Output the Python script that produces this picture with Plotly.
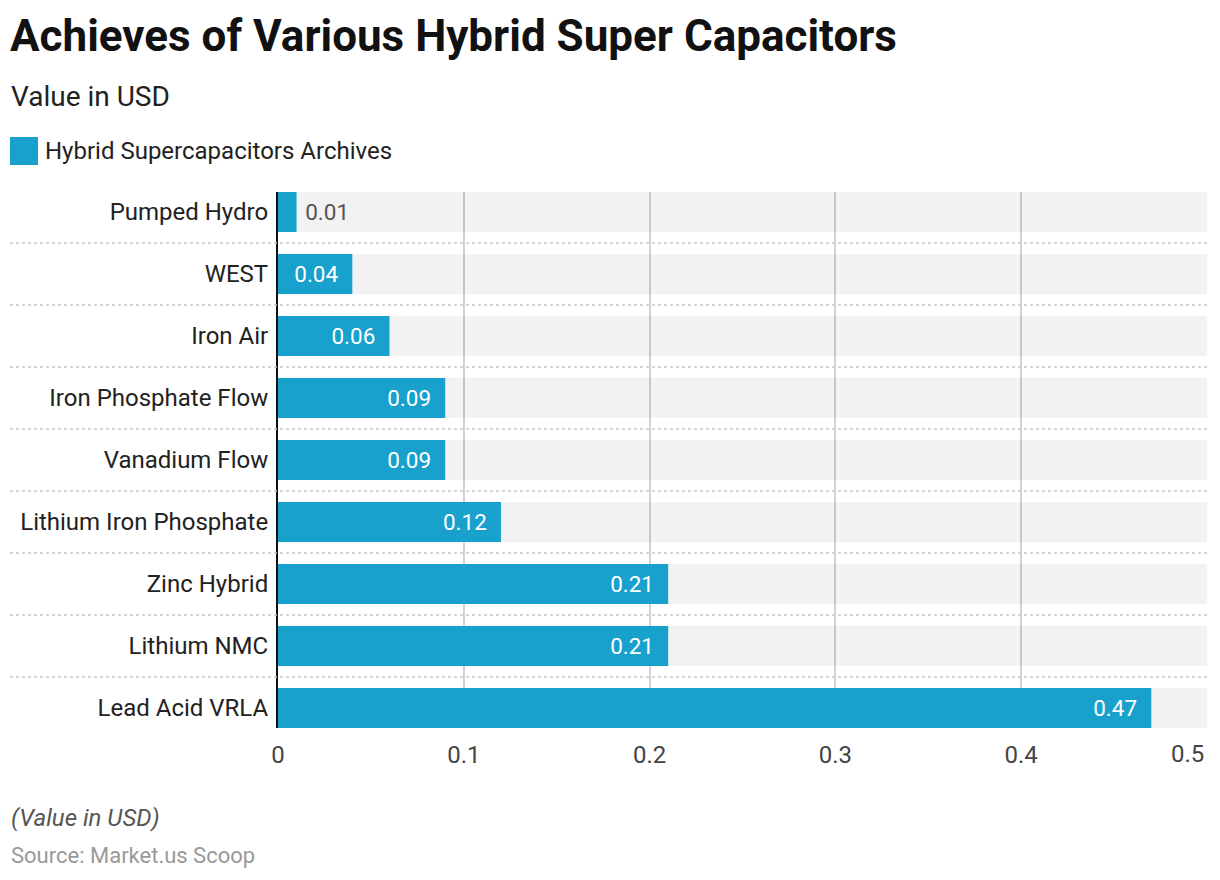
import plotly.graph_objects as go

categories = ["Pumped Hydro", "WEST", "Iron Air", "Iron Phosphate Flow", "Vanadium Flow",
              "Lithium Iron Phosphate", "Zinc Hybrid", "Lithium NMC", "Lead Acid VRLA"]
values = [0.01, 0.04, 0.06, 0.09, 0.09, 0.12, 0.21, 0.21, 0.47]
tick_vals = [0, 0.1, 0.2, 0.3, 0.4, 0.5]
tick_text = ["0", "0.1", "0.2", "0.3", "0.4", "0.5"]
series_name = "Hybrid Supercapacitors Archives"
axis_max = 0.5

BAR = "#19a1cd"
FONT = "Roboto"
NB = "\u00a0"

# label placement: outside for tiny bars
positions = ["outside" if v < 0.03 else "inside" for v in values]
texts = [(NB + f"{v:.2f}") if p == "outside" else (f"{v:.2f}" + NB * 2)
         for v, p in zip(values, positions)]
text_colors = ["#555555" if p == "outside" else "white" for p in positions]

fig = go.Figure()
# background bands
fig.add_trace(go.Bar(
    y=categories, x=[axis_max] * len(categories), orientation="h",
    marker=dict(color="rgba(0,0,0,0.052)", line=dict(width=0)),
    hoverinfo="skip", showlegend=False,
))
fig.add_trace(go.Bar(
    y=categories, x=values, orientation="h", name=series_name,
    marker=dict(color=BAR, line=dict(width=0)),
    text=texts, textposition=positions, insidetextanchor="end",
    textfont=dict(family=FONT, size=22.5, color=text_colors),
    cliponaxis=False, showlegend=False,
))

L, T, PW, PH = 278, 192, 929, 536


def px(x):
    return (x - L) / PW


def py(y):
    return (T + PH - y) / PH


shapes = []
n = len(categories)
for i in range(n - 1):
    shapes.append(dict(type="line", xref="paper", yref="y",
                       x0=px(10), x1=1.0, y0=i + 0.5, y1=i + 0.5,
                       line=dict(color="#c8c8c8", width=1.5, dash="dot"), layer="above"))
# legend swatch
shapes.append(dict(type="rect", xref="paper", yref="paper",
                   x0=px(10), x1=px(38), y0=py(137), y1=py(165),
                   fillcolor=BAR, line=dict(width=0)))

annotations = [
    dict(text="<b>Achieves of Various Hybrid Super Capacitors</b>", xref="paper", yref="paper",
         x=px(8), y=py(36), xanchor="left", yanchor="middle",
         showarrow=False, font=dict(family=FONT, size=44, color="#111111")),
    dict(text="Value in USD", xref="paper", yref="paper",
         x=px(9), y=py(97), xanchor="left", yanchor="middle",
         showarrow=False, font=dict(family=FONT, size=28, color="#222222")),
    dict(text=series_name, xref="paper", yref="paper",
         x=px(43), y=py(151), xanchor="left", yanchor="middle",
         showarrow=False, font=dict(family=FONT, size=24, color="#222222")),
    dict(text="<i>(Value in USD)</i>", xref="paper", yref="paper",
         x=px(9), y=py(818), xanchor="left", yanchor="middle",
         showarrow=False, font=dict(family=FONT, size=24, color="#555555")),
    dict(text="Source: Market.us Scoop", xref="paper", yref="paper",
         x=px(9), y=py(855), xanchor="left", yanchor="middle",
         showarrow=False, font=dict(family=FONT, size=22, color="#999999")),
    # last tick label, nudged inside the figure edge
    dict(text=tick_text[-1], xref="x", yref="paper",
         x=tick_vals[-1], y=py(754), xanchor="right", yanchor="middle", xshift=-1,
         showarrow=False, font=dict(family=FONT, size=24, color="#444444")),
]

tick_text_axis = tick_text[:-1] + [""]

fig.update_layout(
    width=1220, height=880,
    margin=dict(l=L, r=1220 - L - PW, t=T, b=880 - T - PH, autoexpand=False),
    paper_bgcolor="white", plot_bgcolor="white",
    barmode="overlay", bargap=0.355,
    showlegend=False,
    font=dict(family=FONT),
    shapes=shapes, annotations=annotations,
    xaxis=dict(range=[0, axis_max], tickvals=tick_vals, ticktext=tick_text_axis,
               showgrid=True, gridcolor="#d2d2d2", gridwidth=2, zeroline=False,
               showline=False, ticks="outside", ticklen=5, tickcolor="rgba(0,0,0,0)",
               automargin=False,
               tickfont=dict(family=FONT, size=24, color="#444444"), fixedrange=True),
    yaxis=dict(categoryorder="array", categoryarray=categories,
               range=[n - 1 + 0.3226, -0.3226], automargin=False,
               showline=True, linecolor="#111111", linewidth=2, showgrid=False,
               ticks="outside", ticklen=3, tickcolor="rgba(0,0,0,0)",
               tickfont=dict(family=FONT, size=24, color="#222222"), fixedrange=True),
)

fig.write_html("out.html", config={"displayModeBar": False},
               post_script="document.body.style.margin='0';")
